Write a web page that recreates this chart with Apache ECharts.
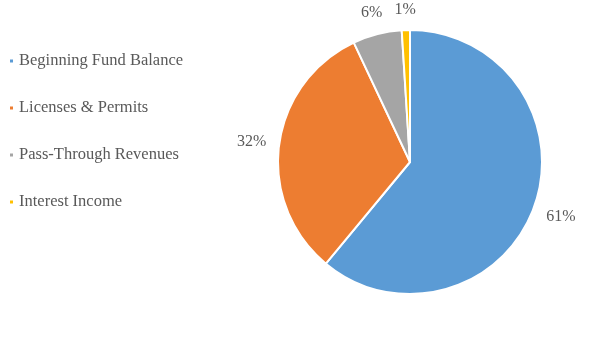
<!DOCTYPE html>
<html><head><meta charset="utf-8">
<script src="https://cdn.jsdelivr.net/npm/echarts@6/dist/echarts.min.js"></script>
<style>html,body{margin:0;padding:0;background:#fff}#c{width:599px;height:343px}</style>
</head><body><div id="c"></div>
<script>
const categories = ['Beginning Fund Balance', 'Licenses & Permits', 'Pass-Through Revenues', 'Interest Income'];
const values = [61, 32, 6, 1];
const colors = ['#5B9BD5', '#ED7D31', '#A5A5A5', '#FFC000'];

const cx = 410, cy = 162, R = 132, gap = 12;
const total = values.reduce((a, b) => a + b, 0);
const mids = [];
let acc = 0;
values.forEach(v => { mids.push((acc + v / 2) / total * 2 * Math.PI); acc += v; });

const chart = echarts.init(document.getElementById('c'));
chart.setOption({
  animation: false,
  color: colors,
  legend: {
    orient: 'vertical', left: 8, top: 51, padding: 0,
    icon: 'rect', itemWidth: 5, itemHeight: 5, itemGap: 27,
    textStyle: { fontFamily: 'Liberation Serif', fontSize: 16.5, lineHeight: 20, color: '#595959' },
    data: categories
  },
  series: [{
    type: 'pie',
    center: [cx, cy], radius: [0, R],
    startAngle: 90, clockwise: true,
    avoidLabelOverlap: false,
    itemStyle: { borderColor: '#fff', borderWidth: 2 },
    label: {
      show: true, position: 'outside',
      formatter: p => p.value + '%',
      fontFamily: 'Liberation Serif', fontSize: 16, color: '#595959'
    },
    labelLine: { show: false },
    labelLayout: function (p) {
      const a = mids[p.dataIndex];
      const s = Math.sin(a), c = Math.cos(a);
      const w = p.labelRect.width, h = p.labelRect.height;
      const d = R + gap + (w / 2) * Math.abs(s) + (h / 2) * Math.abs(c);
      return { x: cx + d * s, y: cy - d * c, align: 'center', verticalAlign: 'middle' };
    },
    data: categories.map((n, i) => ({ name: n, value: values[i] }))
  }]
});
</script></body></html>
